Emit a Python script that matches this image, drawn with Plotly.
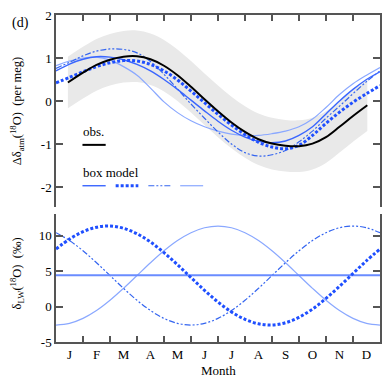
import plotly.graph_objects as go

# ---------------- data ----------------
months = [0, 0.5, 1, 1.5, 2, 2.5, 3, 3.5, 4, 4.5, 5, 5.5, 6, 6.5, 7, 7.5,
          8, 8.5, 9, 9.5, 10, 10.5, 11, 11.5, 12]
month_labels = ["J", "F", "M", "A", "M", "J", "J", "A", "S", "O", "N", "D"]
month_centres = [0.5, 1.5, 2.5, 3.5, 4.5, 5.5, 6.5, 7.5, 8.5, 9.5, 10.5, 11.5]
month_edges = [1, 2, 3, 4, 5, 6, 7, 8, 9, 10, 11]

# observations (per meg)
obs_months = [0.44, 1, 1.5, 2, 2.5, 3, 3.5, 4, 4.5, 5, 5.5, 6, 6.5, 7, 7.5,
              8, 8.5, 9, 9.5, 10, 10.5, 11, 11.53]
obs = [0.43, 0.66, 0.84, 0.96, 1.03, 1.04, 0.97, 0.82, 0.60, 0.33, 0.04, -0.24,
       -0.50, -0.72, -0.89, -0.99, -1.04, -1.05, -0.99, -0.84, -0.60, -0.35, -0.10]
obs_upper = [1.03, 1.26, 1.44, 1.56, 1.63, 1.64, 1.57, 1.42, 1.20, 0.93, 0.64, 0.36,
             0.10, -0.12, -0.29, -0.39, -0.44, -0.45, -0.39, -0.24, 0.00, 0.25, 0.50]
obs_lower = [-0.17, 0.06, 0.24, 0.36, 0.43, 0.44, 0.37, 0.22, 0.00, -0.27, -0.56, -0.84,
             -1.10, -1.32, -1.49, -1.59, -1.64, -1.65, -1.59, -1.44, -1.20, -0.95, -0.70]

# box model Δδatm (per meg)
model_solid = [0.70, 0.86, 0.97, 1.03, 1.02, 0.96, 0.85, 0.70, 0.50, 0.27, 0.02, -0.23,
               -0.47, -0.68, -0.84, -0.94, -0.97, -0.93, -0.80, -0.60, -0.30, 0.00,
               0.27, 0.50, 0.68]
model_dotted = [0.42, 0.55, 0.68, 0.80, 0.89, 0.94, 0.93, 0.85, 0.70, 0.49, 0.23, -0.04,
                -0.31, -0.56, -0.78, -0.96, -1.07, -1.11, -1.03, -0.80, -0.52, -0.26,
                -0.03, 0.17, 0.36]
model_dashdot = [0.76, 0.90, 1.05, 1.16, 1.21, 1.20, 1.12, 0.92, 0.62, 0.28, -0.07, -0.40,
                 -0.72, -1.00, -1.20, -1.28, -1.25, -1.15, -0.95, -0.70, -0.40, -0.12,
                 0.17, 0.45, 0.70]
model_light = [0.82, 0.93, 1.00, 1.02, 0.95, 0.80, 0.60, 0.30, -0.02, -0.27, -0.46, -0.60,
               -0.70, -0.77, -0.80, -0.80, -0.76, -0.70, -0.60, -0.42, -0.15, 0.15,
               0.40, 0.60, 0.78]

# δLW (‰)
lw_solid = [4.45] * 25
lw_dotted = [8.15, 9.55, 10.6, 11.23, 11.4, 11.08, 10.31, 9.14, 7.64, 5.93, 4.11, 2.31,
             0.65, -0.75, -1.8, -2.43, -2.6, -2.28, -1.51, -0.34, 1.16, 2.87, 4.69,
             6.49, 8.15]
lw_dashdot = [10.46, 9.35, 7.9, 6.21, 4.4, 2.59, 0.9, -0.55, -1.66, -2.36, -2.6, -2.36,
              -1.66, -0.55, 0.9, 2.59, 4.4, 6.21, 7.9, 9.35, 10.46, 11.16, 11.4,
              11.16, 10.46]
lw_light = [-2.6, -2.36, -1.66, -0.55, 0.9, 2.59, 4.4, 6.21, 7.9, 9.35, 10.46, 11.16,
            11.4, 11.16, 10.46, 9.35, 7.9, 6.21, 4.4, 2.59, 0.9, -0.55, -1.66, -2.36, -2.6]

# ---------------- styles ----------------
C_SOLID = "#3a66ff"
C_DOT = "#1f4fff"
C_DASHDOT = "#3465f0"
C_LIGHT = "#8aa8ff"
C_CONST = "#6a8cff"
DOT = "3px,2px"
DASHDOT = "6px,2px,2px,2px,2px,2px"
FONT = "Liberation Serif"
AX = "#555555"

fig = go.Figure()

# band
fig.add_trace(go.Scatter(x=obs_months, y=obs_upper, mode="lines", line=dict(width=0, shape="spline"),
                         hoverinfo="skip", showlegend=False, xaxis="x", yaxis="y"))
fig.add_trace(go.Scatter(x=obs_months, y=obs_lower, mode="lines", line=dict(width=0, shape="spline"),
                         fill="tonexty", fillcolor="#e9e9e9", showlegend=False, xaxis="x", yaxis="y"))

def add(x, y, color, width, dash, xa, ya):
    fig.add_trace(go.Scatter(x=x, y=y, mode="lines",
                             line=dict(color=color, width=width, dash=dash, shape="spline", smoothing=1.0),
                             showlegend=False, xaxis=xa, yaxis=ya))

add(months, model_light, C_LIGHT, 1.2, "solid", "x", "y")
add(months, model_dashdot, C_DASHDOT, 1.2, DASHDOT, "x", "y")
add(months, model_solid, C_SOLID, 1.4, "solid", "x", "y")
add(months, model_dotted, C_DOT, 3, DOT, "x", "y")
add(obs_months, obs, "black", 2, "solid", "x", "y")

add(months, lw_light, C_LIGHT, 1.2, "solid", "x2", "y2")
add(months, lw_dashdot, C_DASHDOT, 1.2, DASHDOT, "x2", "y2")
add(months, lw_solid, C_CONST, 2, "solid", "x2", "y2")
add(months, lw_dotted, C_DOT, 3, DOT, "x2", "y2")

# legend keys (in top-panel data units)
shapes = [
    dict(type="line", xref="x", yref="y", x0=0.98, x1=1.84, y0=-1.02, y1=-1.02,
         line=dict(color="black", width=2)),
    dict(type="line", xref="x", yref="y", x0=0.98, x1=1.84, y0=-1.97, y1=-1.97,
         line=dict(color=C_SOLID, width=1.4)),
    dict(type="line", xref="x", yref="y", x0=2.21, x1=3.05, y0=-1.97, y1=-1.97,
         line=dict(color=C_DOT, width=3, dash=DOT)),
    dict(type="line", xref="x", yref="y", x0=3.42, x1=4.27, y0=-1.97, y1=-1.97,
         line=dict(color=C_DASHDOT, width=1.2, dash=DASHDOT)),
    dict(type="line", xref="x", yref="y", x0=4.6, x1=5.45, y0=-1.97, y1=-1.97,
         line=dict(color=C_LIGHT, width=1.2)),
]

annotations = [
    dict(text="obs.", xref="x", yref="y", x=0.92, y=-0.71, xanchor="left", yanchor="middle",
         showarrow=False, font=dict(family=FONT, size=13, color="black")),
    dict(text="box model", xref="x", yref="y", x=0.92, y=-1.67, xanchor="left", yanchor="middle",
         showarrow=False, font=dict(family=FONT, size=13, color="black")),
    dict(text="(d)", xref="paper", yref="paper", x=-0.11, y=0.977, xanchor="center", yanchor="middle",
         showarrow=False, font=dict(family=FONT, size=14, color="black")),
    dict(text="Δδ<sub>atm</sub>(<sup>18</sup>O)\u00a0\u00a0(per meg)", xref="paper", yref="paper",
         x=-0.12, y=0.706, textangle=-90, xanchor="center", yanchor="middle", showarrow=False,
         font=dict(family=FONT, size=12.5, color="black")),
    dict(text="δ<sub>LW</sub>(<sup>18</sup>O)\u00a0\u00a0(‰)", xref="paper", yref="paper",
         x=-0.12, y=0.21, textangle=-90, xanchor="center", yanchor="middle", showarrow=False,
         font=dict(family=FONT, size=12.5, color="black")),
    dict(text="Month", xref="paper", yref="paper", x=0.5, y=-0.088, xanchor="center", yanchor="middle",
         showarrow=False, font=dict(family=FONT, size=13, color="black")),
]

axis_common = dict(showline=True, linecolor=AX, linewidth=1.5, showgrid=False, zeroline=False,
                   tickcolor=AX, tickwidth=1.5, tickfont=dict(family=FONT, size=13, color="black"))

fig.update_layout(
    width=383, height=379,
    margin=dict(l=56, r=1, t=15, b=37),
    paper_bgcolor="white", plot_bgcolor="white",
    showlegend=False,
    shapes=shapes, annotations=annotations,
    xaxis=dict(**axis_common, domain=[0, 1], anchor="y", side="top", range=[0, 12],
               tickmode="array", tickvals=month_edges, ticks="inside", ticklen=6,
               showticklabels=False),
    yaxis=dict(**axis_common, domain=[0.4128, 1], anchor="x", range=[-2.465, 2],
               tickmode="array", tickvals=[-2, -1, 0, 1, 2], ticktext=["-2", "-1", "0", "1", "2"],
               ticks="inside", ticklen=7, mirror="ticks"),
    xaxis2=dict(**axis_common, domain=[0, 1], anchor="y2", side="bottom", range=[0, 12],
                tickmode="array", tickvals=month_centres, ticktext=month_labels, ticks="",
                minor=dict(tickmode="array", tickvals=month_edges, ticks="inside", ticklen=6,
                           tickcolor=AX, tickwidth=1.5, showgrid=False)),
    yaxis2=dict(**axis_common, domain=[0, 0.3914], anchor="x2", range=[-5, 13.1],
                tickmode="array", tickvals=[-5, 0, 5, 10], ticktext=["-5", "0", "5", "10"],
                ticks="inside", ticklen=7, mirror="ticks"),
)

fig.write_html("out.html")
